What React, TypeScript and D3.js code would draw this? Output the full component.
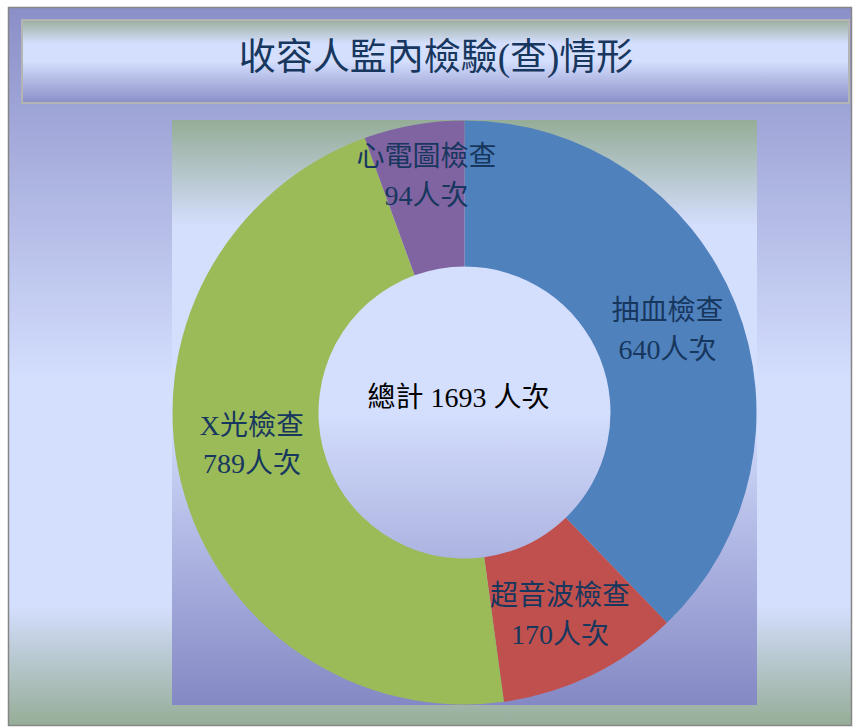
import React from "react";
import * as d3 from "d3";

const categories = ["抽血檢查", "超音波檢查", "X光檢查", "心電圖檢查"];
const values = [640, 170, 789, 94];
const colors = ["#4f81bd", "#c0504d", "#9bbb59", "#8064a2"];
const unit = "人次";
const title = "收容人監內檢驗(查)情形";
const totalLabel = "總計";

const W = 858;
const H = 727;
const FONT = "'Liberation Serif', 'Noto Sans CJK TC', serif";
// vertical nudges for label placement (Excel best-fit style)
const labelNudge = [-2, 4, -22, -22];

export default function App() {
  const plot = { x: 172, y: 120, w: 585, h: 585 };
  const cx = plot.x + plot.w / 2;
  const cy = plot.y + plot.h / 2;
  const outerR = plot.h / 2 - 0.5;
  const innerR = outerR * 0.5;
  const total = d3.sum(values);

  const data = categories.map((c, i) => ({ name: c, value: values[i], color: colors[i] }));
  const pie = d3.pie<any>().sort(null).value((d) => d.value).startAngle(0).endAngle(2 * Math.PI);
  const arcs = pie(data);
  const arcGen = d3.arc<any>().innerRadius(innerR).outerRadius(outerR);

  return (
    <svg width={W} height={H} style={{ position: "absolute", left: 0, top: 0 }}>
      <defs>
        <linearGradient id="frameG" x1="0" y1="0" x2="0" y2="1">
          <stop offset="0" stopColor="#8a8fc8" />
          <stop offset="0.52" stopColor="#d4defd" />
          <stop offset="0.835" stopColor="#d4defd" />
          <stop offset="1" stopColor="#95ad97" />
        </linearGradient>
        <linearGradient id="titleG" x1="0" y1="0" x2="0" y2="1">
          <stop offset="0" stopColor="#9caf9f" />
          <stop offset="0.28" stopColor="#d4defd" />
          <stop offset="0.5" stopColor="#d4defd" />
          <stop offset="1" stopColor="#8a8fc8" />
        </linearGradient>
        <linearGradient id="plotG" x1="0" y1="0" x2="0" y2="1">
          <stop offset="0" stopColor="#95ad97" />
          <stop offset="0.18" stopColor="#d4defd" />
          <stop offset="0.5" stopColor="#d4defd" />
          <stop offset="1" stopColor="#8488c4" />
        </linearGradient>
      </defs>
      <rect x={8.5} y={7.5} width={843} height={718} fill="url(#frameG)" stroke="#868686" strokeWidth={1.5} />
      <rect x={22} y={20} width={827} height={83} fill="url(#titleG)" stroke="#b4b4b4" strokeWidth={2} />
      <text
        x={436}
        y={57}
        textAnchor="middle"
        dominantBaseline="central"
        fontFamily={FONT}
        fontSize={37}
        fill="#17375e"
      >
        {title}
      </text>
      <rect x={plot.x} y={plot.y} width={plot.w} height={plot.h} fill="url(#plotG)" />
      <g transform={`translate(${cx},${cy})`}>
        {arcs.map((a, i) => (
          <path key={i} d={arcGen(a) as string} fill={a.data.color} />
        ))}
        {arcs.map((a, i) => {
          const [lx, c] = arcGen.centroid(a);
          const ly = c + labelNudge[i];
          return (
            <text
              key={"l" + i}
              x={lx}
              y={ly}
              textAnchor="middle"
              fontFamily={FONT}
              fontSize={28}
              fill="#17375e"
            >
              <tspan x={lx} dy="-0.3em">{a.data.name}</tspan>
              <tspan x={lx} dy="1.38em">{a.data.value}{unit}</tspan>
            </text>
          );
        })}
        <text
          x={-6}
          y={-15}
          textAnchor="middle"
          dominantBaseline="central"
          fontFamily={FONT}
          fontSize={28}
          fill="#000"
        >
          {`${totalLabel} ${total} ${unit}`}
        </text>
      </g>
    </svg>
  );
}
